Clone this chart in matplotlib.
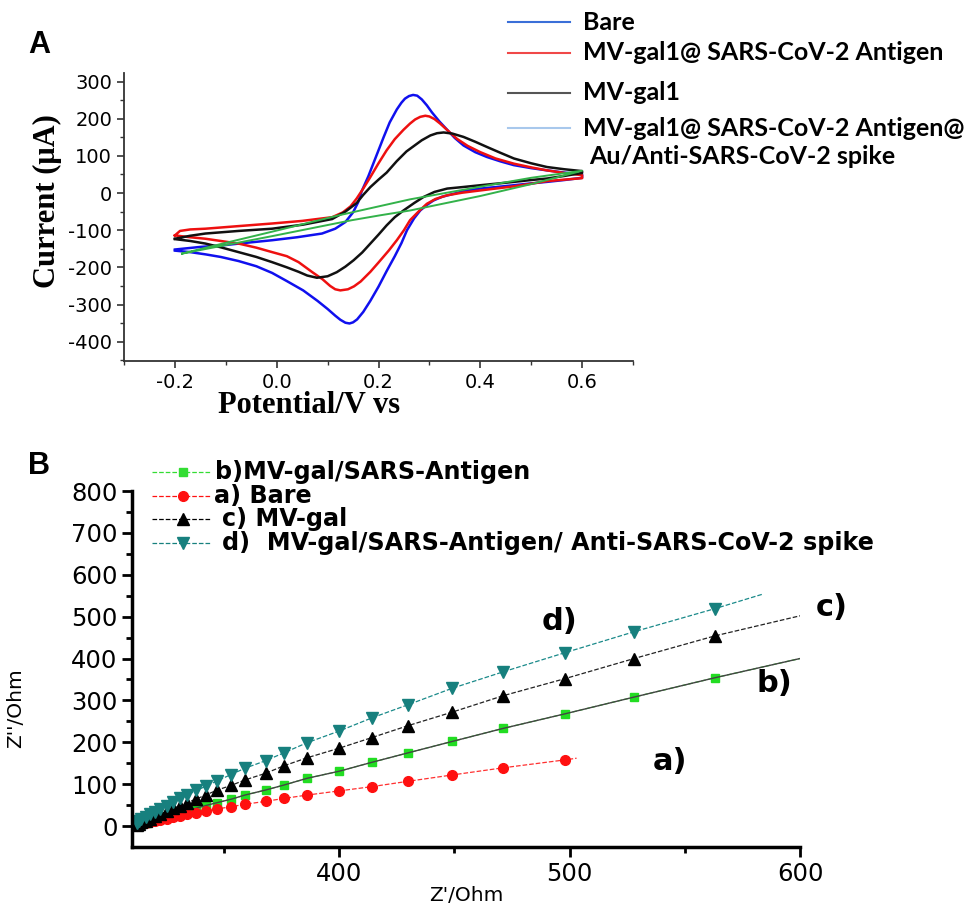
import matplotlib
matplotlib.use("Agg")
import matplotlib.pyplot as plt
from matplotlib.lines import Line2D

plt.rcParams["axes.unicode_minus"] = False

# ---- panel A : cyclic voltammograms (E in V, I in uA), one closed loop per curve
bare_E = [-0.2, -0.15, -0.108, -0.06, -0.009, 0.04, 0.089, 0.115, 0.135, 0.15, 0.16, 0.167, 0.18, 0.19,
          0.2, 0.21, 0.222, 0.236, 0.245, 0.252, 0.26, 0.268, 0.276, 0.285, 0.295, 0.305, 0.32, 0.335,
          0.35, 0.367, 0.39, 0.413, 0.44, 0.466, 0.5, 0.531, 0.565, 0.6,
          0.6, 0.565, 0.531, 0.5, 0.466, 0.43, 0.4, 0.37, 0.348, 0.325, 0.308, 0.295, 0.282, 0.27,
          0.256, 0.245, 0.232, 0.216, 0.2, 0.184, 0.17, 0.158, 0.15, 0.143, 0.135, 0.125, 0.115,
          0.1, 0.08, 0.052, 0.02, -0.009, -0.04, -0.075, -0.11, -0.14, -0.17, -0.2]
bare_I = [-152, -145, -141, -134, -127, -119, -109, -96, -78, -52, -25, 5, 45, 80,
          115, 150, 190, 225, 243, 254, 261, 264, 262, 252, 236, 217, 192, 170,
          148, 128, 110, 97, 85, 75, 67, 61, 55, 50,
          41, 35, 30, 26, 21, 16, 12, 6, -2, -10, -20, -32, -47, -68,
          -100, -135, -170, -210, -252, -290, -320, -340, -348, -351, -349, -341, -330,
          -312, -290, -262, -237, -215, -197, -183, -172, -165, -159, -155]

antigen_E = [-0.2, -0.19, -0.17, -0.14, -0.075, -0.009, 0.05, 0.109, 0.13, 0.145, 0.157, 0.17, 0.184,
             0.2, 0.216, 0.232, 0.249, 0.262, 0.272, 0.282, 0.292, 0.3, 0.31, 0.321, 0.337, 0.354,
             0.375, 0.4, 0.43, 0.466, 0.5, 0.531, 0.565, 0.6,
             0.6, 0.565, 0.531, 0.5, 0.466, 0.43, 0.4, 0.365, 0.335, 0.312, 0.295, 0.28, 0.262, 0.25,
             0.236, 0.22, 0.2, 0.184, 0.165, 0.152, 0.14, 0.125, 0.115, 0.105, 0.09, 0.07, 0.043,
             0.02, -0.009, -0.04, -0.075, -0.11, -0.14, -0.17, -0.2]
antigen_I = [-114, -102, -98, -96, -89, -82, -75, -65, -52, -36, -15, 12, 43,
             80, 115, 145, 170, 187, 198, 205, 208, 206, 199, 187, 167, 146,
             127, 110, 93, 79, 69, 61, 54, 48,
             40, 36, 32, 25, 18, 12, 7, 1, -6, -16, -29, -48, -73, -100,
             -127, -155, -187, -212, -238, -251, -259, -262, -259, -250, -232, -213, -186,
             -170, -159, -147, -136, -129, -123, -119, -114]

mvgal_E = [-0.2, -0.17, -0.14, -0.075, -0.009, 0.052, 0.109, 0.135, 0.157, 0.17, 0.184, 0.2, 0.216,
           0.236, 0.255, 0.269, 0.285, 0.302, 0.315, 0.328, 0.345, 0.367, 0.39, 0.413, 0.44, 0.466,
           0.5, 0.531, 0.565, 0.6,
           0.6, 0.565, 0.531, 0.5, 0.466, 0.43, 0.4, 0.365, 0.335, 0.31, 0.288, 0.27, 0.249, 0.232,
           0.216, 0.2, 0.184, 0.168, 0.151, 0.135, 0.118, 0.1, 0.079, 0.06, 0.043, 0.02, -0.009,
           -0.04, -0.075, -0.11, -0.14, -0.17, -0.2]
mvgal_I = [-123, -115, -109, -102, -96, -85, -70, -50, -27, -5, 16, 36, 55,
           86, 112, 126, 142, 155, 161, 163, 160, 151, 138, 124, 108, 93,
           80, 70, 64, 59,
           54, 46, 39, 35, 30, 25, 21, 16, 12, 3, -11, -27, -47, -65,
           -87, -112, -136, -160, -181, -198, -213, -224, -228, -222, -212, -200, -186,
           -172, -159, -146, -136, -129, -124]

spike_E = [-0.186, -0.1, -0.009, 0.122, 0.262, 0.4, 0.5, 0.6,
           0.5, 0.4, 0.262, 0.203, 0.148, -0.009, -0.1, -0.186]
spike_I = [-163, -134, -104, -60, -17, 17, 41, 60,
           24, -8, -47, -60, -73, -116, -140, -163]

legend_a = ["Bare", "MV-gal1@ SARS-CoV-2 Antigen", "MV-gal1", "MV-gal1@ SARS-CoV-2 Antigen@"]
legend_a_extra = "Au/Anti-SARS-CoV-2 spike"
legend_a_colors = ["#3a6fd8", "#f04848", "#555555", "#a8c8ec"]

# ---- panel B : Nyquist plots, Z' and Z'' in Ohm (last point of each list = end of the dashed line)
zr_a = [312, 313, 314, 316, 318, 320, 322, 325, 328, 331, 334, 338, 342, 347, 353, 359, 368,
        376, 386, 400, 414, 430, 449, 471, 498, 503]
zi_a = [1, 3, 4, 7, 9, 12, 15, 18, 21, 25, 28, 32, 36, 41, 46, 52, 59,
        66, 74, 84, 94, 107, 122, 139, 158, 162]
zr_b = [312, 313, 314, 316, 318, 320, 322, 325, 328, 331, 334, 338, 342, 347, 353, 359, 368,
        376, 386, 400, 414, 430, 449, 471, 498, 528, 563, 600]
zi_b = [1, 3, 5, 8, 11, 15, 18, 23, 27, 32, 37, 43, 49, 56, 64, 74, 86,
        98, 114, 131, 152, 175, 202, 233, 268, 308, 354, 400]
zr_c = [312, 313, 314, 316, 318, 320, 322, 325, 328, 331, 334, 338, 342, 347, 353, 359, 368,
        376, 386, 400, 414, 430, 449, 471, 498, 528, 563, 600]
zi_c = [3, 6, 9, 13, 18, 23, 28, 35, 42, 49, 56, 65, 74, 86, 97, 110, 126,
        144, 163, 186, 211, 240, 272, 311, 352, 400, 454, 502]
zr_d = [312, 313, 314, 316, 318, 320, 322, 325, 328, 331, 334, 338, 342, 347, 353, 359, 368,
        376, 386, 400, 414, 430, 449, 471, 498, 528, 563, 584]
zi_d = [8, 12, 16, 22, 28, 34, 40, 49, 57, 66, 74, 85, 95, 108, 123, 138, 156,
        175, 199, 227, 258, 290, 329, 368, 414, 464, 519, 554]

fig = plt.figure(figsize=(9.74, 9.07), dpi=100)

# ================= A =================
axA = fig.add_axes([124/974, 1-361/907, 509/974, 288/907])
axA.plot(bare_E, bare_I, color="#1010ee", lw=1.8)
axA.plot(antigen_E, antigen_I, color="#ee1010", lw=1.8)
axA.plot(mvgal_E, mvgal_I, color="#111111", lw=1.8)
axA.plot(spike_E, spike_I, color="#33b24a", lw=1.4)
axA.set_xlim(-0.3, 0.7)
axA.set_ylim(-452, 323)
axA.set_xticks([-0.2, 0.0, 0.2, 0.4, 0.6])
axA.set_xticks([-0.3, -0.1, 0.1, 0.3, 0.5, 0.7], minor=True)
axA.set_yticks(range(-400, 301, 100))
axA.set_yticks(range(-450, 301, 100), minor=True)
axA.xaxis.set_major_formatter(plt.FormatStrFormatter("%.1f"))
for s in ["top", "right"]:
    axA.spines[s].set_visible(False)
for s in ["left", "bottom"]:
    axA.spines[s].set_linewidth(1.3)
    axA.spines[s].set_color("#333333")
axA.tick_params(which="major", direction="out", length=5, width=1.2, labelsize=14, color="#333333")
axA.tick_params(which="minor", direction="out", length=3, width=1.0, color="#333333")
axA.set_xlabel("Potential/V vs", family="Liberation Serif", weight="bold", fontsize=22)
axA.set_ylabel("Current (\u03bcA)", family="Liberation Serif", weight="bold", fontsize=22)
axA.xaxis.set_label_coords(0.363, -0.105)
axA.yaxis.set_label_coords(-0.122, 0.556)

fig.text(28/974, 1-45/907, "A", fontsize=22, weight="bold", family="Liberation Sans", va="center")

rows_y = [22, 53, 93, 128]
for lab, col, py in zip(legend_a, legend_a_colors, rows_y):
    fig.add_artist(Line2D([508/974, 570/974], [1-py/907, 1-py/907], color=col, lw=1.5))
    fig.text(583/974, 1-py/907, lab, fontsize=18, weight="bold", family="Lato", va="center")
fig.text(589/974, 1-157/907, legend_a_extra, fontsize=18, weight="bold", family="Lato", va="center")

# ================= B =================
axB = fig.add_axes([132/974, 1-847/907, 668/974, 356/907])
axB.plot(zr_b, zi_b, ls="--", lw=0.9, color="#33dd33", marker="s", ms=6,
         mfc="#22dd22", mec="#22dd22", markevery=list(range(len(zr_b)-1)))
axB.plot(zr_b, zi_b, ls="-", lw=1.0, color="#444444")
axB.plot(zr_a, zi_a, ls="--", lw=0.9, color="#ff3030", marker="o", ms=7,
         mfc="#ff1010", mec="#ff1010", markevery=list(range(len(zr_a)-1)))
axB.plot(zr_c, zi_c, ls="--", lw=0.9, color="#222222", marker="^", ms=8,
         mfc="black", mec="black", markevery=list(range(len(zr_c)-1)))
axB.plot(zr_d, zi_d, ls="--", lw=0.9, color="#1a8a8a", marker="v", ms=8,
         mfc="#17807e", mec="#17807e", markevery=list(range(len(zr_d)-1)))
axB.set_xlim(310, 600)
axB.set_ylim(-50, 800)
axB.set_xticks([400, 500, 600])
axB.set_xticks([350, 450, 550], minor=True)
axB.set_yticks(range(0, 801, 100))
axB.set_yticks(range(50, 801, 100), minor=True)
for s in ["top", "right"]:
    axB.spines[s].set_visible(False)
for s in ["left", "bottom"]:
    axB.spines[s].set_linewidth(2.5)
axB.tick_params(which="major", direction="out", length=7, width=2, labelsize=17.5)
axB.tick_params(which="minor", direction="out", length=4, width=2)
for lbl in axB.get_xticklabels() + axB.get_yticklabels():
    lbl.set_family("DejaVu Sans")
axB.set_xlabel("Z'/Ohm", fontsize=14.5, family="DejaVu Sans")
axB.set_ylabel("Z''/Ohm", fontsize=14.5, family="DejaVu Sans")
axB.xaxis.set_label_coords(0.5, -0.11)
axB.yaxis.set_label_coords(-0.16, 0.39)

for txt, x, y in [("d)", 495.6, 489), ("c)", 614, 523), ("b)", 589, 340), ("a)", 543.5, 153)]:
    axB.text(x, y, txt, fontsize=22, weight="bold", family="DejaVu Sans",
             ha="center", va="center", clip_on=False)

fig.text(28/974, 1-466/907, "B", fontsize=22, weight="bold", family="Liberation Sans", va="center")

legend_b = [("b)MV-gal/SARS-Antigen", "#33dd33", "s", 6, 215),
            ("a) Bare", "#ff1010", "o", 7, 214),
            ("c) MV-gal", "black", "^", 8, 222),
            ("d)  MV-gal/SARS-Antigen/ Anti-SARS-CoV-2 spike", "#17807e", "v", 8, 222)]
legend_b_y = [472, 496, 519, 543]
for (lab, col, mk, ms, tx), py in zip(legend_b, legend_b_y):
    fy = 1 - py/907
    fig.add_artist(Line2D([152/974, 210/974], [fy, fy], color=col, lw=0.9, ls="--"))
    fig.add_artist(Line2D([183/974], [fy], color=col, marker=mk, ms=ms, mfc=col, mec=col, ls="none"))
    fig.text(tx/974, fy, lab, fontsize=17.2, weight="bold", family="DejaVu Sans", va="center")

fig.savefig("out.png", dpi=100)
